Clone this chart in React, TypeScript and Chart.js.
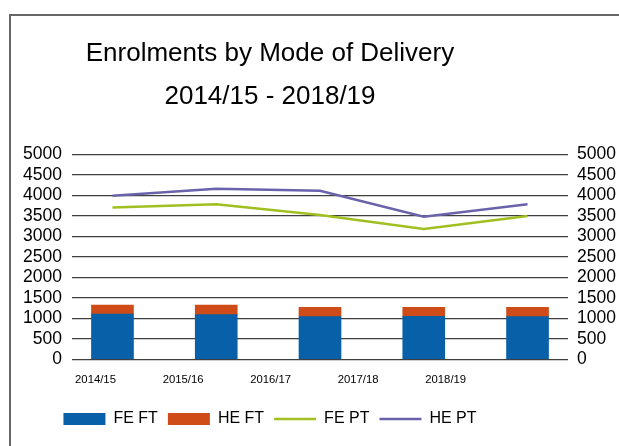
import React, { useEffect, useRef } from 'react';
import { Chart, registerables } from 'chart.js';

Chart.register(...registerables);

const categories = ['2014/15', '2015/16', '2016/17', '2017/18', '2018/19'];
const feFT = [1105, 1088, 1040, 1045, 1040];
const heFT = [219, 236, 228, 222, 226];
const fePT = [3700, 3780, 3520, 3175, 3495];
const hePT = [3985, 4160, 4110, 3478, 3780];
const titleLines = ['Enrolments by Mode of Delivery', '2014/15 - 2018/19'];

const FONT = "'Liberation Sans', Arial, Helvetica, sans-serif";
const BLUE = '#0760a8';
const ORANGE = '#cf4b17';
const GREEN = '#a2bf22';
const PURPLE = '#6a62ab';
const GRID = '#3f3f3f';

export default function App() {
  const ref = useRef<HTMLCanvasElement>(null);

  useEffect(() => {
    if (!ref.current) return;
    const pts = (vals: number[]) => vals.map((v, i) => ({ x: i, y: v }));

    const shiftBoxes = {
      id: 'shiftBoxes',
      afterLayout(chart: any) {
        for (const box of [chart.titleBlock, chart.legend]) {
          if (box) {
            box.left = 0;
            box.right = 540;
            box.width = 540;
          }
        }
      },
    };

    const tickFont = { family: FONT, size: 17.5 };
    const plain = (v: any) => String(v);

    const chart = new Chart(ref.current, {
      type: 'bar',
      data: {
        datasets: [
          {
            type: 'bar',
            label: 'FE FT',
            data: pts(feFT),
            backgroundColor: BLUE,
            borderWidth: 0,
            stack: 'ft',
            barThickness: 42,
            xAxisID: 'x',
            yAxisID: 'y',
            pointStyle: 'rect',
          },
          {
            type: 'bar',
            label: 'HE FT',
            data: pts(heFT),
            backgroundColor: ORANGE,
            borderWidth: 0,
            stack: 'ft',
            barThickness: 42,
            xAxisID: 'x',
            yAxisID: 'y',
            pointStyle: 'rect',
          },
          {
            type: 'line',
            label: 'FE PT',
            data: pts(fePT),
            borderColor: GREEN,
            backgroundColor: GREEN,
            borderWidth: 2.5,
            pointRadius: 0,
            tension: 0,
            xAxisID: 'x',
            yAxisID: 'y1',
            pointStyle: 'line',
          },
          {
            type: 'line',
            label: 'HE PT',
            data: pts(hePT),
            borderColor: PURPLE,
            backgroundColor: PURPLE,
            borderWidth: 2.5,
            pointRadius: 0,
            tension: 0,
            xAxisID: 'x',
            yAxisID: 'y1',
            pointStyle: 'line',
          },
        ] as any,
      },
      options: {
        responsive: false,
        animation: false,
        devicePixelRatio: 1,
        layout: { padding: { top: 0, left: 0, right: 0, bottom: 9 } },
        plugins: {
          title: {
            display: true,
            text: titleLines,
            color: '#000',
            font: { family: FONT, size: 26, weight: 'normal', lineHeight: 1.673 },
            padding: { top: 31.75, bottom: 35.5 },
          },
          legend: {
            display: true,
            position: 'bottom',
            labels: {
              usePointStyle: true,
              pointStyleWidth: 42,
              boxHeight: 12,
              padding: 10,
              color: '#000',
              font: { family: FONT, size: 16 },
            },
          },
          tooltip: { enabled: false },
        },
        scales: {
          x: {
            type: 'linear',
            min: -0.39,
            max: 4.39,
            offset: false,
            display: false,
            stacked: true,
          },
          x2: {
            type: 'linear',
            position: 'bottom',
            min: -0.2684,
            max: 5.397,
            offset: false,
            grid: { display: false, drawTicks: false, tickLength: 0, offset: false },
            border: { display: false },
            afterBuildTicks: (s: any) => {
              s.ticks = categories.map((_, i) => ({ value: i }));
            },
            afterFit: (s: any) => {
              s.height = 41.7;
            },
            ticks: {
              autoSkip: false,
              maxRotation: 0,
              padding: 14,
              color: '#000',
              font: { family: FONT, size: 11.3 },
              callback: (v: any) => categories[v as number] ?? '',
            },
          },
          y: {
            position: 'left',
            stacked: true,
            min: 0,
            max: 5000,
            grid: { color: GRID, lineWidth: 1.3, drawTicks: false, tickLength: 0 },
            border: { display: false },
            afterFit: (s: any) => {
              s.width = 72;
            },
            ticks: {
              stepSize: 500,
              autoSkip: false,
              padding: 10,
              color: '#000',
              font: tickFont,
              callback: plain,
            },
          },
          y1: {
            position: 'right',
            min: 0,
            max: 5000,
            grid: { display: false, drawTicks: false, tickLength: 0 },
            border: { display: false },
            afterFit: (s: any) => {
              s.width = 51;
            },
            ticks: {
              stepSize: 500,
              autoSkip: false,
              padding: 9,
              color: '#000',
              font: tickFont,
              callback: plain,
            },
          },
        } as any,
      },
      plugins: [shiftBoxes],
    } as any);

    return () => chart.destroy();
  }, []);

  return (
    <div
      style={{
        position: 'fixed',
        left: 0,
        top: 0,
        width: 619,
        height: 446,
        overflow: 'hidden',
        background: '#fff',
      }}
    >
      <div
        style={{
          position: 'absolute',
          left: 9,
          top: 14,
          width: 700,
          height: 500,
          borderLeft: '2px solid #666',
          borderTop: '2px solid #666',
        }}
      />
      <canvas
        ref={ref}
        width={619}
        height={446}
        style={{ position: 'absolute', left: 0, top: 0, width: 619, height: 446, display: 'block' }}
      />
    </div>
  );
}
